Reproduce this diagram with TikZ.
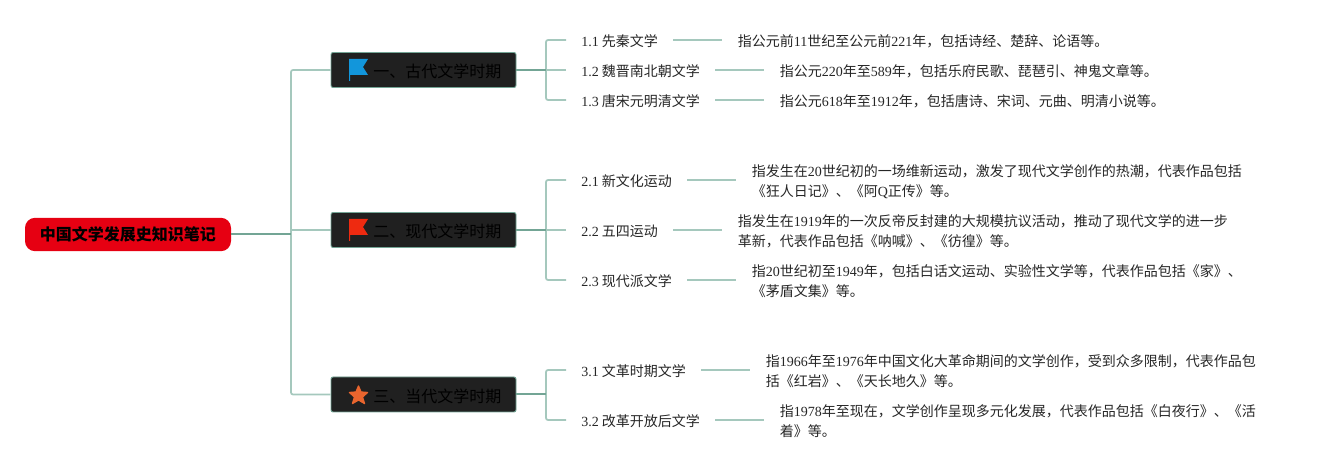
\documentclass[tikz,border=0pt]{standalone}
\usepackage{fontspec}
\setmainfont{Noto Sans CJK SC}
\newfontfamily\latfont{Liberation Serif}
\newcommand{\lat}[1]{{\latfont #1}}
\definecolor{rootred}{HTML}{E60012}
\definecolor{branchfill}{HTML}{202020}
\definecolor{linedark}{HTML}{73A595}
\definecolor{linelight}{HTML}{A5C8BD}
\definecolor{flagblue}{HTML}{1296DB}
\definecolor{flagred}{HTML}{EE2A10}
\definecolor{starorange}{HTML}{E9652E}
\tikzset{
  rootnode/.style={draw=none,fill=rootred,rounded corners=7.5pt,minimum width=154.5pt,minimum height=25pt,inner sep=0pt,font=\fontsize{12}{14}\selectfont\bfseries,text=black},
  branchnode/.style={draw=linedark,line width=0.7pt,fill=branchfill,rounded corners=1.5pt,minimum width=138.75pt,minimum height=26.25pt,inner sep=0pt},
  branchtext/.style={anchor=west,inner sep=0pt,font=\fontsize{12}{14}\selectfont,text=black},
  subnode/.style={anchor=west,inner xsep=11.25pt,inner ysep=0pt,font=\fontsize{10.5}{15}\selectfont,text=black!85},
  descnode/.style={anchor=west,inner xsep=12pt,inner ysep=0pt,align=left,font=\fontsize{10.5}{15}\selectfont,text=black!85},
  darkline/.style={draw=linedark,line width=1.5pt},
  lightline/.style={draw=linelight,line width=1.3pt,rounded corners=1.5pt},
  connline/.style={draw=linelight,line width=1.3pt}
}
\begin{document}
\begin{tikzpicture}[x=0.75pt,y=-0.75pt]
\useasboundingbox (0,0) rectangle (1340,470);
% trunk
\coordinate (trunktop) at (291,70);
\coordinate (trunkbot) at (291,394.5);
\coordinate (trunkmid) at (291,234.5);
\node[rootnode] (root) at (128,234.5) {中国文学发展史知识笔记};
\node[branchnode] (b1) at (423.5,70) {};
\node[branchnode] (b2) at (423.5,230) {};
\node[branchnode] (b3) at (423.5,394.5) {};
\node[branchtext] (b1t) at (373,71) {一、古代文学时期};
\node[branchtext] (b2t) at (373,231) {二、现代文学时期};
\node[branchtext] (b3t) at (373,396) {三、当代文学时期};
\draw[lightline] (b1.west) -- (trunktop) -- (trunkbot) -- (b3.west);
\draw[connline] (b2.west) -- (b2.west -| trunktop);
\draw[darkline] (root.east) -- (trunkmid);
% icons
\fill[flagblue] (349,59) -- (368,59) -- (363,67) -- (368,75) -- (350,75) -- (350,81) -- (349,81) -- cycle;
\fill[flagred] (349,219) -- (368,219) -- (363,227) -- (368,235) -- (350,235) -- (350,241) -- (349,241) -- cycle;
\fill[starorange,draw=starorange,line width=1pt,line join=round] (358.5,386) -- (361,392) -- (367.5,392.5) -- (362.5,397) -- (364.5,403.5) -- (358.5,400) -- (352.5,403.5) -- (354.5,397) -- (349.5,392.5) -- (356,392) -- cycle;
% subtopics
\node[subnode] (s11) at (566,41) {\lat{1.1} 先秦文学};
\node[subnode] (s12) at (566,71) {\lat{1.2} 魏晋南北朝文学};
\node[subnode] (s13) at (566,101) {\lat{1.3} 唐宋元明清文学};
\node[subnode] (s21) at (566,181) {\lat{2.1} 新文化运动};
\node[subnode] (s22) at (566,231) {\lat{2.2} 五四运动};
\node[subnode] (s23) at (566,281) {\lat{2.3} 现代派文学};
\node[subnode] (s31) at (566,371) {\lat{3.1} 文革时期文学};
\node[subnode] (s32) at (566,421) {\lat{3.2} 改革开放后文学};
% descriptions
\node[descnode] (d11) at (721.5,41) {指公元前\lat{11}世纪至公元前\lat{221}年，包括诗经、楚辞、论语等。};
\node[descnode] (d12) at (763.5,71) {指公元\lat{220}年至\lat{589}年，包括乐府民歌、琵琶引、神鬼文章等。};
\node[descnode] (d13) at (763.5,101) {指公元\lat{618}年至\lat{1912}年，包括唐诗、宋词、元曲、明清小说等。};
\node[descnode] (d21) at (735.5,181.4) {指发生在\lat{20}世纪初的一场维新运动，激发了现代文学创作的热潮，代表作品包括\\《狂人日记》、《阿\lat{Q}正传》等。};
\node[descnode] (d22) at (721.5,231.4) {指发生在\lat{1919}年的一次反帝反封建的大规模抗议活动，推动了现代文学的进一步\\革新，代表作品包括《呐喊》、《彷徨》等。};
\node[descnode] (d23) at (735.5,281.4) {指\lat{20}世纪初至\lat{1949}年，包括白话文运动、实验性文学等，代表作品包括《家》、\\《茅盾文集》等。};
\node[descnode] (d31) at (749.5,371.4) {指\lat{1966}年至\lat{1976}年中国文化大革命期间的文学创作，受到众多限制，代表作品包\\括《红岩》、《天长地久》等。};
\node[descnode] (d32) at (763.5,421.4) {指\lat{1978}年至现在，文学创作呈现多元化发展，代表作品包括《白夜行》、《活\\着》等。};
% branch to subtopic connectors
\foreach \b/\t/\bt in {b1/s11/s13,b2/s21/s23,b3/s31/s32}{
  \draw[lightline] ([yshift=0.75pt]\t.west) -- ([yshift=0.75pt]\t.west -| 546,0) -- ([yshift=0.75pt]\bt.west -| 546,0) -- ([yshift=0.75pt]\bt.west);
  \draw[darkline] (\b.east) -- (\b.east -| 546,0);
}
\draw[connline] ([yshift=0.75pt]s12.west) -- ([yshift=0.75pt]s12.west -| 546,0);
\draw[connline] ([yshift=0.75pt]s22.west) -- ([yshift=0.75pt]s22.west -| 546,0);
% subtopic to description connectors
\foreach \s/\d in {s11/d11,s12/d12,s13/d13,s21/d21,s22/d22,s23/d23,s31/d31,s32/d32}{
  \draw[connline] ([yshift=0.75pt]\s.east) -- ([yshift=0.75pt]\s.east -| \d.west);
}
\end{tikzpicture}
\end{document}
